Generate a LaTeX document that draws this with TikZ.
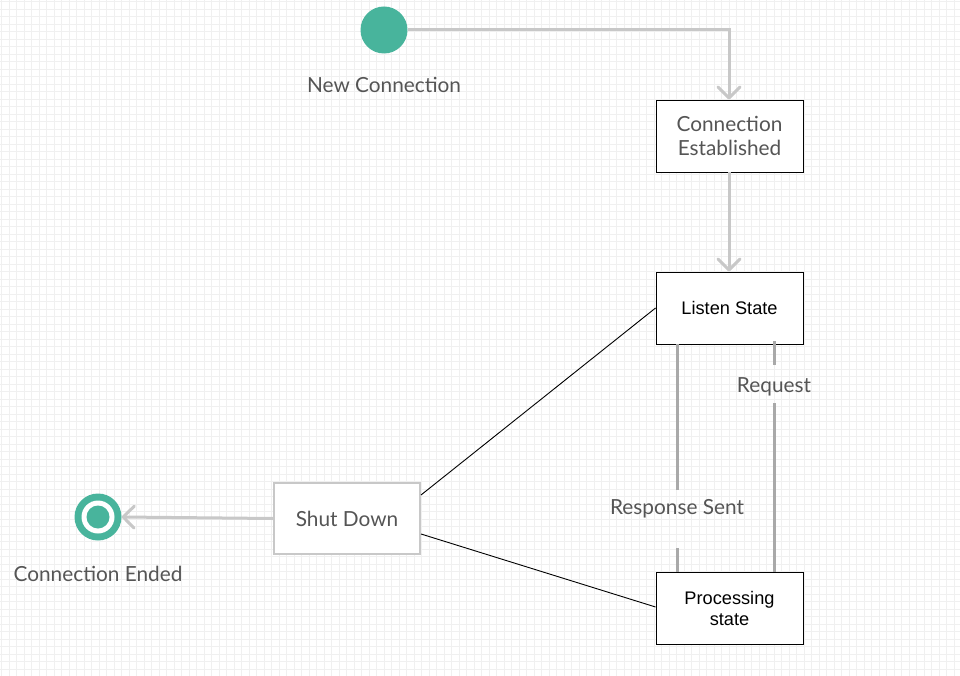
\documentclass[tikz,border=0pt]{standalone}
\usepackage{fontspec}
\setmainfont{Lato}
\newfontfamily\arialfont{Liberation Sans}
\usetikzlibrary{arrows.meta}
\definecolor{teal1}{HTML}{48B49C}
\definecolor{txtgray}{HTML}{555555}
\definecolor{conngray}{HTML}{C8C8C8}
\definecolor{darkconn}{HTML}{A9A9A9}
\definecolor{gridgray}{HTML}{F0F0F0}
\tikzset{
  every picture/.style={x=1pt,y=-1pt},
  lbl/.style={text=txtgray,font=\fontsize{20.8}{24}\selectfont,align=center,inner sep=0pt},
  statebox/.style={draw=black,line width=0.9pt,minimum width=147pt,minimum height=72pt,inner sep=0pt,align=center,fill=white},
  arialtxt/.style={font=\arialfont\fontsize{18.2}{21}\selectfont,text=black},
  latotxt/.style={font=\fontsize{20.8}{24.5}\selectfont,text=txtgray},
  conn/.style={draw=conngray,line width=3pt},
  openarrow/.style={-{Straight Barb[length=11pt,width=22pt,line cap=round,line join=round]}},
  darkline/.style={draw=darkconn,line width=3pt},
  thinline/.style={draw=black,line width=0.9pt},
  gridline/.style={draw=gridgray,line width=0.6pt}
}
\begin{document}
\begin{tikzpicture}
\useasboundingbox (0,0) rectangle (960,676);
\fill[white] (0,0) rectangle (960,676);
\foreach \i in {0,...,128} {
  \draw[gridline] ({1.7+7.5*\i},0) -- ({1.7+7.5*\i},676);
}
\foreach \j in {0,...,90} {
  \draw[gridline] (0,{1.7+7.5*\j}) -- (960,{1.7+7.5*\j});
}

% nodes
\node[circle,fill=teal1,minimum size=47pt,inner sep=0pt] (start) at (384,30) {};
\node[lbl] (startlbl) at (384,85) {New Connection};

\node[statebox,latotxt] (est) at (729.5,136) {Connection\\Established};
\node[statebox,arialtxt] (listen) at (729.5,308) {Listen State};
\node[statebox,arialtxt] (proc) at (729.5,608) {Processing\\state};
\node[statebox,draw=conngray,line width=2pt,minimum width=146pt,minimum height=71pt,latotxt] (shut) at (347,518.5) {Shut Down};

\node[circle,fill=teal1,minimum size=47pt,inner sep=0pt] (endc) at (98,517) {};
\node[circle,fill=white,minimum size=33pt,inner sep=0pt] (endring) at (98,517) {};
\node[circle,fill=teal1,minimum size=23pt,inner sep=0pt] (enddot) at (98,517) {};
\node[lbl] (endlbl) at (98,574) {Connection Ended};

\coordinate (c1) at (729,30);

% connectors
\draw[conn,openarrow] (start.east) -- (c1) -- (est.north -| c1);
\draw[conn,openarrow] (est.south -| c1) -- (listen.north -| c1);
\draw[conn,openarrow] (shut.west) -- (endc.east);

\draw[thinline] (shut.east |- 0,495) -- (listen.west |- 0,308);
\draw[thinline] (shut.east |- 0,534) -- (proc.west |- 0,607);

% Response Sent
\coordinate (rs) at (677,508.5);
\draw[darkline] (677,344) -- (677,490);
\draw[darkline] (677,548) -- (677,572);
\node[lbl] (rslbl) at (rs) {Response Sent};

% Request
\coordinate (rq) at (774,386.5);
\draw[darkline] (774,341) -- (774,365);
\draw[darkline] (774,403) -- (774,572);
\node[lbl] (rqlbl) at (rq) {Request};
\end{tikzpicture}
\end{document}
